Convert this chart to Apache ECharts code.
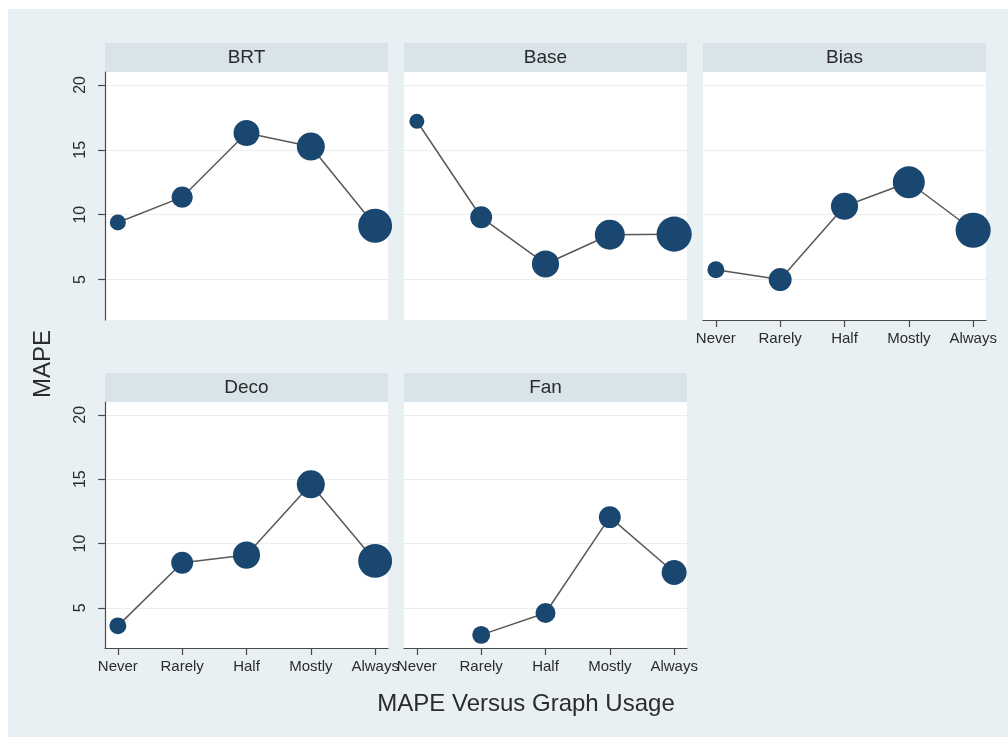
<!DOCTYPE html>
<html>
<head>
<meta charset="utf-8">
<script src="https://cdn.jsdelivr.net/npm/echarts@6/dist/echarts.min.js"></script>
<style>
  html, body { margin: 0; padding: 0; background: #ffffff; }
  #frame { position: absolute; left: 8px; top: 9px; right: 0; bottom: 0; background: #e8f0f3; }
  #chart { position: absolute; left: 0; top: 0; width: 1008px; height: 737px; }
</style>
</head>
<body>
<div id="frame"></div>
<div id="chart"></div>
<script>
// Graph usage categories (x axis) and panel names
const usage = ['Never', 'Rarely', 'Half', 'Mostly', 'Always'];
const panelNames = ['BRT', 'Base', 'Bias', 'Deco', 'Fan'];

// Mean MAPE by graph usage, one array per forecasting method (null = no observations)
const mapeBRT  = [9.4, 11.35, 16.3, 15.25, 9.15];
const mapeBase = [17.2, 9.8, 6.2, 8.45, 8.5];
const mapeBias = [5.75, 5.0, 10.65, 12.5, 8.8];
const mapeDeco = [3.6, 8.5, 9.1, 14.6, 8.65];
const mapeFan  = [null, 2.9, 4.6, 12.05, 7.75];

// Number of observations behind each mean (marker weight)
const nBRT  = [16, 28, 42, 49, 72];
const nBase = [14, 30, 46, 56, 77];
const nBias = [18, 33, 46, 64, 77];
const nDeco = [18, 30, 46, 49, 72];
const nFan  = [null, 20, 25, 30, 39];

// Y axis tick labels
const yTicks = [5, 10, 15, 20];

const mapeSets = [mapeBRT, mapeBase, mapeBias, mapeDeco, mapeFan];
const weightSets = [nBRT, nBase, nBias, nDeco, nFan];

// Panel layout: 3 columns x 2 rows
const colLeft = [105, 404, 703];
const panelW = 283;
const rowHeaderTop = [43, 373];
const headerH = 29;
const rowPlotTop = [72, 402];
const rowPlotH = [248, 246];
const cells = [
  { col: 0, row: 0, yAxis: true,  xAxis: false },
  { col: 1, row: 0, yAxis: false, xAxis: false },
  { col: 2, row: 0, yAxis: false, xAxis: true  },
  { col: 0, row: 1, yAxis: true,  xAxis: true  },
  { col: 1, row: 1, yAxis: false, xAxis: true  }
];

const FONT = 'Liberation Sans, Arial, Helvetica, sans-serif';
const NAVY = '#1a476f';
const AXIS = '#4a4a4a';
const TEXT = '#2b2b2b';

const grids = [], xAxes = [], yAxes = [], series = [], graphics = [];

cells.forEach((c, i) => {
  grids.push({
    left: colLeft[c.col], top: rowPlotTop[c.row],
    width: panelW, height: rowPlotH[c.row],
    show: true, backgroundColor: '#ffffff', borderWidth: 0
  });

  xAxes.push({
    gridIndex: i, type: 'value', min: 0.8, max: 5.2,
    splitLine: { show: false },
    axisLine: { show: c.xAxis, lineStyle: { color: AXIS, width: 1.2 } },
    axisTick: { show: c.xAxis, customValues: [1, 2, 3, 4, 5], length: 7, lineStyle: { color: AXIS, width: 1.2 } },
    axisLabel: {
      show: c.xAxis, customValues: [1, 2, 3, 4, 5], margin: 11,
      formatter: v => usage[Math.round(v) - 1] || '',
      fontFamily: FONT, fontSize: 15, color: TEXT
    }
  });

  yAxes.push({
    gridIndex: i, type: 'value', min: 1.88, max: 21.0,
    splitLine: { show: true, lineStyle: { color: '#eceeee', width: 1 } },
    axisLine: { show: c.yAxis, lineStyle: { color: AXIS, width: 1.2 } },
    axisTick: { show: c.yAxis, customValues: yTicks, length: 7, lineStyle: { color: AXIS, width: 1.2 } },
    axisLabel: {
      show: c.yAxis, customValues: yTicks, rotate: 90, margin: 16,
      fontFamily: FONT, fontSize: 16, color: TEXT
    }
  });

  const vals = mapeSets[i], wts = weightSets[i];
  const data = [];
  vals.forEach((v, k) => { if (v != null) data.push([k + 1, v, wts[k]]); });

  series.push({
    type: 'line', name: panelNames[i],
    xAxisIndex: i, yAxisIndex: i,
    data: data,
    symbol: 'circle',
    symbolSize: val => 4 * Math.sqrt(val[2]),
    itemStyle: { color: NAVY },
    lineStyle: { color: '#585858', width: 1.5 },
    emphasis: { disabled: true },
    animation: false
  });

  // Panel header strip with method name
  graphics.push({
    type: 'rect', silent: true,
    shape: { x: colLeft[c.col], y: rowHeaderTop[c.row], width: panelW, height: headerH },
    style: { fill: '#d8e3ea' }
  });
  graphics.push({
    type: 'text', silent: true,
    x: colLeft[c.col] + panelW / 2, y: rowHeaderTop[c.row] + headerH / 2,
    style: { text: panelNames[i], align: 'center', verticalAlign: 'middle',
             font: '19px ' + FONT, fill: TEXT }
  });
});

// Axis titles
graphics.push({
  type: 'text', silent: true, x: 43, y: 364, rotation: Math.PI / 2,
  style: { text: 'MAPE', align: 'center', verticalAlign: 'middle', font: '24px ' + FONT, fill: TEXT }
});
graphics.push({
  type: 'text', silent: true, x: 526, y: 704,
  style: { text: 'MAPE Versus Graph Usage', align: 'center', verticalAlign: 'middle', font: '24px ' + FONT, fill: TEXT }
});

const chart = echarts.init(document.getElementById('chart'), null, { renderer: 'canvas' });
chart.setOption({
  backgroundColor: 'transparent',
  animation: false,
  grid: grids,
  xAxis: xAxes,
  yAxis: yAxes,
  series: series,
  graphic: graphics
});
</script>
</body>
</html>
